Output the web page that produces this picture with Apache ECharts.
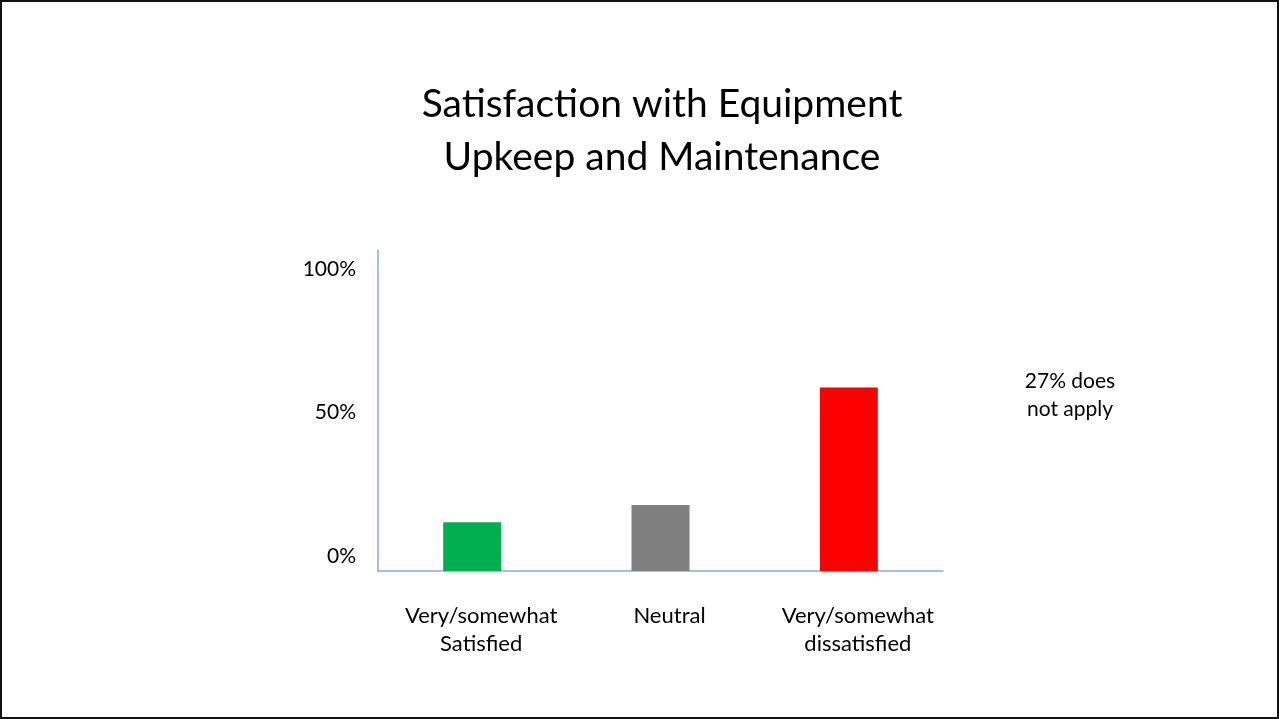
<!DOCTYPE html>
<html>
<head>
<meta charset="utf-8">
<title>Satisfaction with Equipment Upkeep and Maintenance</title>
<script src="https://cdn.jsdelivr.net/npm/echarts@6/dist/echarts.min.js"></script>
<style>
  html, body { margin: 0; padding: 0; background: #fff; }
  #chart { width: 1279px; height: 719px; box-sizing: border-box; border: 2px solid #111; }
</style>
</head>
<body>
<div id="chart"></div>
<script>
// data
var categories = ['Very/somewhat\nSatisfied', 'Neutral', 'Very/somewhat\ndissatisfied'];
var values = [17, 23, 64];
var barColors = ['#00B050', '#7F7F7F', '#FF0000'];
var titleLines = ['Satisfaction with Equipment', 'Upkeep and Maintenance'];
var note = '27% does\nnot apply';

var font = 'Lato, "Open Sans", sans-serif';
var chart = echarts.init(document.getElementById('chart'));

var option = {
  animation: false,
  grid: { left: 376, right: 334, top: 248, bottom: 146 },
  xAxis: {
    type: 'category',
    data: categories,
    axisLine: { lineStyle: { color: '#8FAADC', width: 1.5 } },
    axisTick: { show: false },
    axisLabel: {
      interval: 0,
      margin: 31,
      fontFamily: font,
      fontSize: 22,
      lineHeight: 28,
      color: '#000',
      padding: [0, 0, 0, 18]
    }
  },
  yAxis: {
    type: 'value',
    min: 0,
    max: 112,
    interval: 50,
    axisLine: { show: true, lineStyle: { color: '#8FAADC', width: 1.5 } },
    axisTick: { show: false },
    splitLine: { show: false },
    axisLabel: {
      showMaxLabel: false,
      margin: 22,
      fontFamily: font,
      fontSize: 21,
      color: '#000',
      verticalAlign: 'bottom',
      lineHeight: 30,
      formatter: '{value}%'
    }
  },
  series: [{
    type: 'bar',
    barWidth: 58,
    data: values.map(function (v, i) {
      return { value: v, itemStyle: { color: barColors[i] } };
    })
  }],
  graphic: [{
    type: 'text',
    x: 660,
    y: 76,
    style: {
      text: titleLines.join('\n'),
      fontFamily: font,
      fontSize: 39,
      lineHeight: 53,
      fill: '#000',
      align: 'center',
      verticalAlign: 'top'
    }
  }, {
    type: 'text',
    x: 1068,
    y: 365,
    style: {
      text: note,
      fontFamily: font,
      fontSize: 21,
      lineHeight: 28,
      fill: '#000',
      align: 'center',
      verticalAlign: 'top'
    }
  }]
};

chart.setOption(option);
</script>
</body>
</html>
